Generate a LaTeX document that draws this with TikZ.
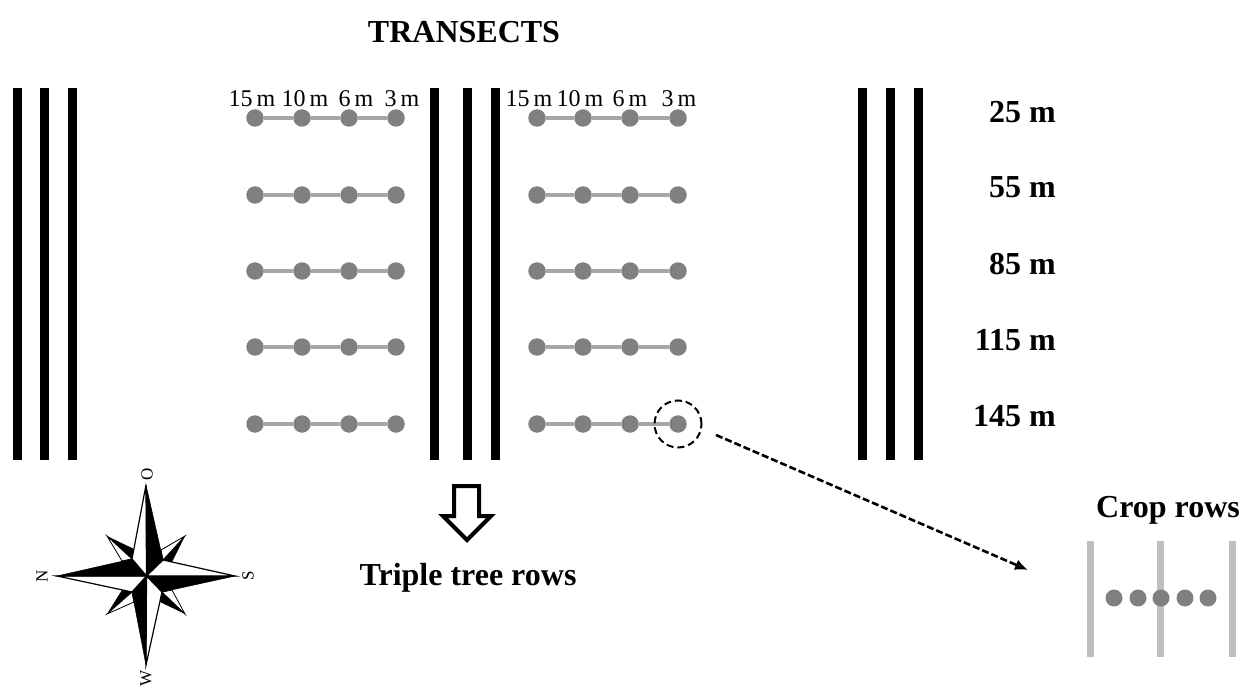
\documentclass[tikz,border=0pt]{standalone}
\usepackage{fontspec}
\setmainfont{Liberation Serif}
\usetikzlibrary{arrows.meta}
\definecolor{dotgray}{HTML}{808080}
\definecolor{linegray}{HTML}{A6A6A6}
\definecolor{cropgray}{HTML}{BFBFBF}
\tikzset{
  x=1pt,y=-1pt,
  treeline/.style={line width=9pt,black},
  cropline/.style={line width=7pt,cropgray},
  dotnode/.style={circle,fill=dotgray,inner sep=0pt,minimum size=17.5pt},
  smalldot/.style={circle,fill=dotgray,inner sep=0pt,minimum size=17pt},
  link/.style={line width=3.5pt,linegray},
  title/.style={font=\fontsize{32}{34}\selectfont\bfseries,inner sep=0pt},
  rowlabel/.style={font=\fontsize{32}{34}\selectfont\bfseries,inner sep=0pt,anchor=east},
  dist/.style={font=\fontsize{24}{26}\selectfont,inner sep=0pt},
  compassletter/.style={font=\fontsize{17}{19}\selectfont,inner sep=0pt,rotate=90},
  blackwedge/.style={fill=black,draw=black,line width=0.5pt,line join=miter},
  whitewedge/.style={fill=white,draw=black,line width=1.2pt,line join=miter},
}
\begin{document}
\begin{tikzpicture}
\useasboundingbox (0,0) rectangle (1243,687);
% title
\node[title] (ttl) at (464,32) {TRANSECTS};
% tree rows
\foreach \n/\xx in {a/17,b/44,c/72,d/434,e/467,f/495,g/862,h/890,i/918}{
  \coordinate (t\n top) at (\xx,88);
  \coordinate (t\n bot) at (\xx,460);
  \draw[treeline] (t\n top) -- (t\n bot);
}
% transects
\foreach \r/\yy in {1/118,2/195,3/271,4/347,5/424}{
  \foreach \c/\xx in {1/255,2/302,3/349,4/396,5/537,6/583,7/630,8/678}{
    \node[dotnode] (d\r-\c) at (\xx,\yy) {};
  }
  \foreach \p/\q in {1/2,2/3,3/4,5/6,6/7,7/8}{
    \draw[link] (d\r-\p) -- (d\r-\q);
  }
}
% distance labels
\foreach \n/\xx/\t in {p/252/15\,m,q/305/10\,m,r/356/6\,m,s/402/3\,m,u/529/15\,m,v/580/10\,m,w/630/6\,m,y/679/3\,m}{
  \node[dist] (l\n) at (\xx,99) {\t};
}
% row labels
\node[rowlabel] (r25) at (1056,112) {25 m};
\node[rowlabel] (r55) at (1056,187) {55 m};
\node[rowlabel] (r85) at (1056,264) {85 m};
\node[rowlabel] (r115) at (1056,340) {115 m};
\node[rowlabel] (r145) at (1056,416) {145 m};
% zoom circle and arrow
\node[circle,draw=black,dash pattern=on 7pt off 4pt,line width=2pt,minimum size=47pt,inner sep=0pt] (zoomc) at (678,424) {};
\coordinate (arrS) at (716,435);
\coordinate (arrE) at (1028,570);
\draw[line width=2.6pt,dash pattern=on 7pt off 3pt,-{Latex[length=13pt,width=11pt]}] (arrS) -- (arrE);
% crop rows
\node[title] (crop) at (1168,510) {Crop rows};
\foreach \n/\xx in {a/1090,b/1160,c/1232}{
  \coordinate (c\n top) at (\xx,541);
  \coordinate (c\n bot) at (\xx,657);
  \draw[cropline] (c\n top) -- (c\n bot);
}
\foreach \n/\xx in {1/1114,2/1138,3/1161,4/1185,5/1208}{
  \node[smalldot] (cd\n) at (\xx,598) {};
}
% hollow arrow
\coordinate (h1) at (454,486); \coordinate (h2) at (479,486);
\draw[line width=4pt,line join=miter,fill=white]
  (h1) -- (h2) -- (479,516) -- (491,516) -- (467,540) -- (443,516) -- (454,516) -- cycle;
\node[title] (triple) at (468,578) {Triple tree rows};
% compass: minor points (tip, inner vertex, black side, white side)
\foreach \tx/\ty/\ax/\ay/\bx/\by/\wx/\wy in {
  185/536/163/560/172/562/161/550,
  185/614/162/592/160/602/172/590,
  107/614/132/592/122/590/134/602,
  107/536/132/559/134/549/122/561}{
  \filldraw[fill=white,draw=black,line width=0.8pt] (\tx,\ty) -- (\wx,\wy) -- (\ax,\ay) -- cycle;
  \fill[black] (\tx,\ty) -- (\ax,\ay) -- (\bx,\by) -- cycle;
}
% compass: main points
\coordinate (cc) at (146.5,576);
\coordinate (cO) at (146,485);
\coordinate (cW) at (146,665);
\coordinate (cN) at (57,576);
\coordinate (cS) at (235,576);
\coordinate (ne) at (163,560);
\coordinate (nw) at (132,559);
\coordinate (se) at (162,592);
\coordinate (sw) at (132,592);
\filldraw[whitewedge] (cO) -- (nw) -- (cc) -- cycle;
\filldraw[blackwedge] (cO) -- (ne) -- (cc) -- cycle;
\filldraw[whitewedge] (cS) -- (ne) -- (cc) -- cycle;
\filldraw[blackwedge] (cS) -- (se) -- (cc) -- cycle;
\filldraw[whitewedge] (cW) -- (se) -- (cc) -- cycle;
\filldraw[blackwedge] (cW) -- (sw) -- (cc) -- cycle;
\filldraw[whitewedge] (cN) -- (sw) -- (cc) -- cycle;
\filldraw[blackwedge] (cN) -- (nw) -- (cc) -- cycle;
% letters
\node[compassletter] (lO) at (147,474) {O};
\node[compassletter] (lN) at (42,576) {N};
\node[compassletter] (lS) at (248,576) {S};
\node[compassletter] (lW) at (146,678) {W};
\end{tikzpicture}
\end{document}
